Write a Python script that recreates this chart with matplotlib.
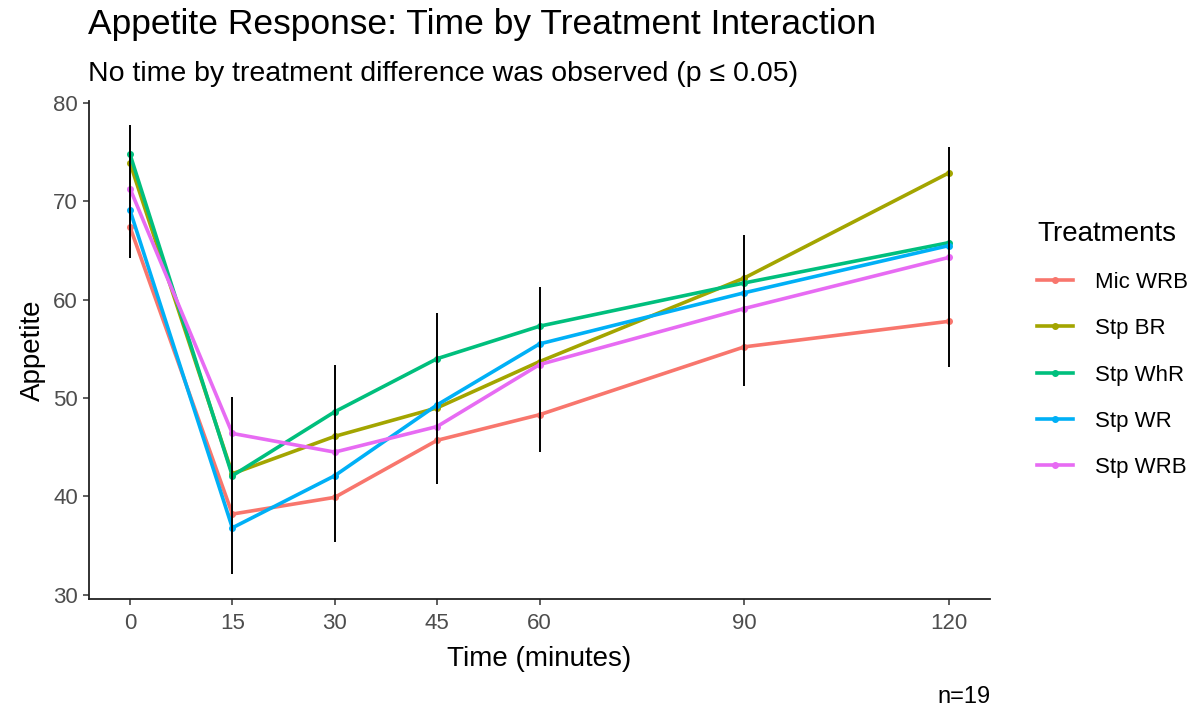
import matplotlib
matplotlib.use('Agg')
import matplotlib.pyplot as plt

plt.rcParams['font.family'] = ['Liberation Sans', 'DejaVu Sans']

times = [0, 15, 30, 45, 60, 90, 120]
treatments = ['Mic WRB', 'Stp BR', 'Stp WhR', 'Stp WR', 'Stp WRB']
colors = ['#F8766D', '#A3A500', '#00BF7D', '#00B0F6', '#E76BF3']

mic_wrb = [67.4, 38.2, 39.9, 45.7, 48.3, 55.2, 57.8]
stp_br = [73.9, 42.3, 46.1, 49.0, 53.7, 62.2, 72.9]
stp_whr = [74.8, 42.1, 48.6, 54.0, 57.3, 61.7, 65.8]
stp_wr = [69.1, 36.8, 42.1, 49.3, 55.5, 60.7, 65.5]
stp_wrb = [71.3, 46.4, 44.5, 47.1, 53.4, 59.1, 64.3]
series = [mic_wrb, stp_br, stp_whr, stp_wr, stp_wrb]

err_low = [64.2, 32.1, 35.4, 41.3, 44.5, 51.2, 53.2]
err_high = [77.8, 50.1, 53.4, 58.6, 61.3, 66.6, 75.5]

fig = plt.figure(figsize=(11.96, 7.11), dpi=100)
ax = fig.add_axes([0.0744, 0.158, 0.7534, 0.700])

handles = []
for vals, name, c in zip(series, treatments, colors):
    h, = ax.plot(times, vals, color=c, lw=2.6, marker='o', ms=4,
                 label=name, zorder=3)
    handles.append(h)

ax.vlines(times, err_low, err_high, color='black', lw=1.4, zorder=4)

ax.set_xlim(-6, 126)
ax.set_ylim(29.6, 80.2)
ax.set_xticks(times)
ax.set_yticks([30, 40, 50, 60, 70, 80])
ax.tick_params(labelsize=16, labelcolor='#4D4D4D', color='#333333',
               length=4, width=1.1, pad=4)
ax.tick_params(axis='x', pad=6)
for s in ['top', 'right']:
    ax.spines[s].set_visible(False)
for s in ['left', 'bottom']:
    ax.spines[s].set_linewidth(1.3)
    ax.spines[s].set_color('#222222')

ax.set_xlabel('Time (minutes)', fontsize=20, labelpad=9)
ax.set_ylabel('Appetite', fontsize=20, labelpad=5)

fig.text(0.0736, 0.966, 'Appetite Response: Time by Treatment Interaction',
         fontsize=25.5, va='center', ha='left')
fig.text(0.0736, 0.896, 'No time by treatment difference was observed (p \u2264 0.05)',
         fontsize=20.5, va='center', ha='left')
fig.text(0.828, 0.02, 'n=19', fontsize=17, ha='right', va='center')

leg = fig.legend(handles=handles, loc='upper left', bbox_to_anchor=(0.8505, 0.718),
                 frameon=False, fontsize=16, title='Treatments',
                 title_fontsize=20, labelspacing=1.14, handlelength=1.6,
                 handletextpad=1.0, alignment='left')

fig.savefig('out.png', dpi=100)
